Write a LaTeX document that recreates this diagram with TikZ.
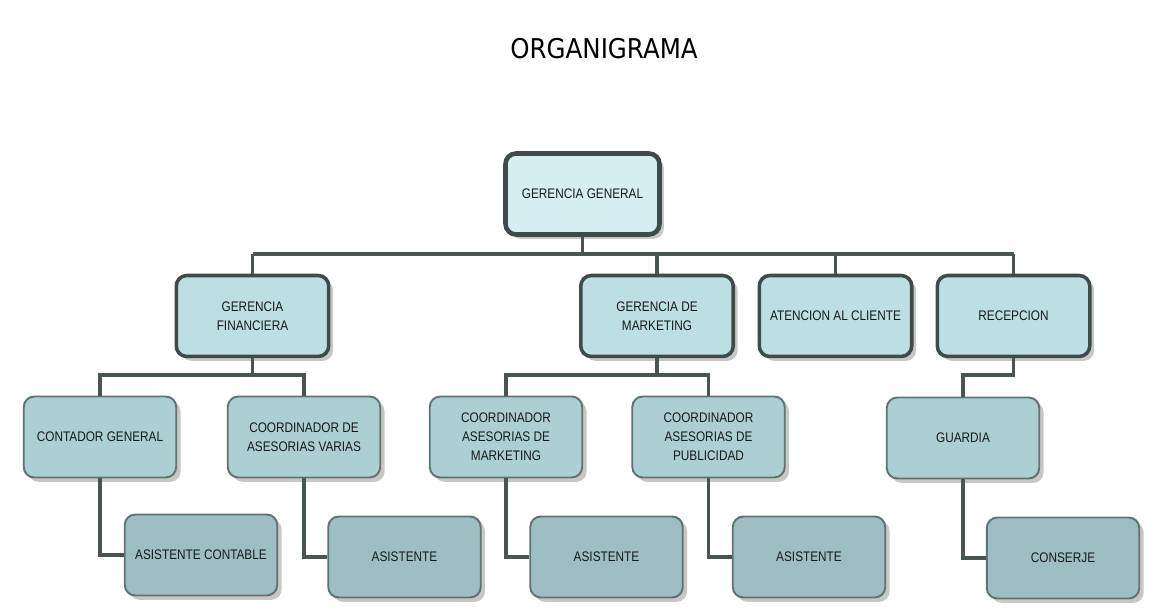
\documentclass[tikz,border=0pt]{standalone}
\usepackage{fontspec}
\setmainfont{Liberation Sans}
\newfontfamily\boxfont[FakeStretch=0.85]{Liberation Sans}
\newfontfamily\titlefont[FakeStretch=0.9]{DejaVu Sans}
\usepackage{tikz}
\usetikzlibrary{shapes,positioning,calc,shadows}

\definecolor{ggfill}{HTML}{D4EEF2}
\definecolor{mgrfill}{HTML}{BCDFE3}
\definecolor{coordfill}{HTML}{ABCFD3}
\definecolor{asisfill}{HTML}{9DBFC3}
\definecolor{darkline}{HTML}{3F4B4B}
\definecolor{midline}{HTML}{627272}

\tikzset{
  orgbox/.style={rectangle, rounded corners=6pt, align=center, text=black!90,
    font=\boxfont\fontsize{7.9}{10.8}\selectfont,
    minimum width=3.05cm, minimum height=1.62cm, inner sep=2pt,
    drop shadow={shadow xshift=2.5pt, shadow yshift=-2.5pt, fill=black, opacity=0.22}},
  boxgg/.style={orgbox, draw=darkline, line width=2.6pt, fill=ggfill,
    minimum width=3.08cm, minimum height=1.62cm},
  boxmgr/.style={orgbox, draw=darkline, line width=2pt, fill=mgrfill},
  boxcoord/.style={orgbox, draw=midline, line width=1.1pt, fill=coordfill},
  boxasis/.style={orgbox, draw=midline, line width=1.1pt, fill=asisfill},
  conn/.style={draw=darkline!95, line width=2.1pt}
}

\begin{document}
\begin{tikzpicture}[x=0.02cm, y=-0.02cm]
    \useasboundingbox (0,0) rectangle (1151,614);

    \node (title) at (604,49) {\titlefont\fontsize{15.5}{18}\selectfont ORGANIGRAMA};

    % levels
    \node (gg) [boxgg] at (582.5,194) {GERENCIA GENERAL};

    \node (gfin)  [boxmgr] at (252.5,316) {GERENCIA\\FINANCIERA};
    \node (gmkt)  [boxmgr] at (657,316)   {GERENCIA DE\\MARKETING};
    \node (aten)  [boxmgr] at (835.5,316) {ATENCION AL CLIENTE};
    \node (recep) [boxmgr] at (1013.5,316) {RECEPCION};

    \node (cont)  [boxcoord] at (100,437)   {CONTADOR GENERAL};
    \node (cav)   [boxcoord] at (304,437)   {COORDINADOR DE\\ASESORIAS VARIAS};
    \node (cam)   [boxcoord] at (506,437)   {COORDINADOR\\ASESORIAS DE\\MARKETING};
    \node (cap)   [boxcoord] at (708.5,437) {COORDINADOR\\ASESORIAS DE\\PUBLICIDAD};
    \node (guard) [boxcoord] at (963,438)   {GUARDIA};

    \node (asc)  [boxasis] at (201,555)   {ASISTENTE CONTABLE};
    \node (as1)  [boxasis] at (404.5,557) {ASISTENTE};
    \node (as2)  [boxasis] at (606.5,557) {ASISTENTE};
    \node (as3)  [boxasis] at (809,557)   {ASISTENTE};
    \node (cons) [boxasis] at (1063,558)  {CONSERJE};

    % connectors
    \coordinate (busA) at (0,254);
    \coordinate (busB) at (0,375);

    \draw[conn] (gg.south) -- (gg.south |- busA);
    \draw[conn] (gfin.north |- busA) -- (recep.north |- busA);
    \foreach \n in {gfin,gmkt,aten,recep}
        \draw[conn] (\n.north |- busA) -- (\n.north);

    \draw[conn] (gfin.south) -- (gfin.south |- busB);
    \draw[conn] (cont.north) |- (cav.north |- busB) -- (cav.north);
    \draw[conn] (gmkt.south) -- (gmkt.south |- busB);
    \draw[conn] (cam.north) |- (cap.north |- busB) -- (cap.north);
    \draw[conn] (recep.south) -- (recep.south |- busB) -| (guard.north);

    \foreach \p/\c in {cont/asc,cav/as1,cam/as2,cap/as3,guard/cons}
        \draw[conn] (\p.south) |- (\c.west);
\end{tikzpicture}
\end{document}
